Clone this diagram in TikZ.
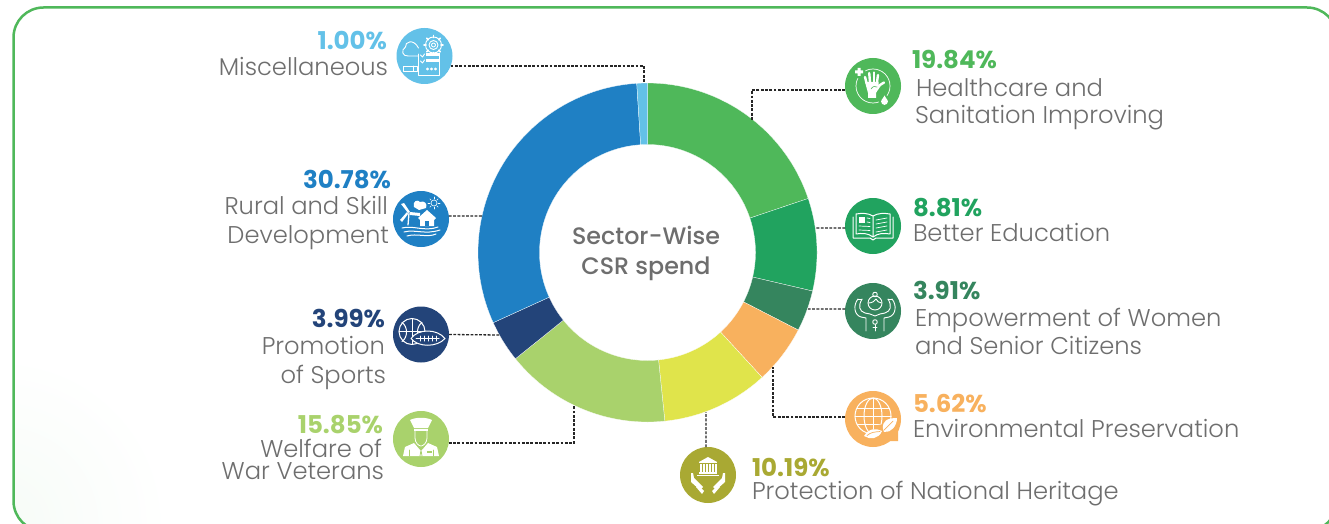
\documentclass[tikz,border=0pt]{standalone}
\usepackage{fontspec}
\setmainfont{Poppins}[UprightFont=* Light,BoldFont=* Bold]
\newfontfamily\medf{Poppins Medium}
\usetikzlibrary{calc}
\definecolor{cHealth}{HTML}{4FB85A}
\definecolor{cEdu}{HTML}{21A35F}
\definecolor{cWomen}{HTML}{35855E}
\definecolor{cEnv}{HTML}{F8B15E}
\definecolor{cHer}{HTML}{E0E44B}
\definecolor{cHerDark}{HTML}{A9A933}
\definecolor{cWar}{HTML}{A9D26C}
\definecolor{cSport}{HTML}{234479}
\definecolor{cRural}{HTML}{1F80C4}
\definecolor{cMisc}{HTML}{63C1E8}
\definecolor{cText}{HTML}{6E6E6E}
\tikzset{
 iconc/.style={circle,minimum size=56pt,inner sep=0pt,outer sep=0pt},
 conn/.style={black!85,line width=1.3pt,dash pattern=on 2.8pt off 1.5pt},
 pct/.style={inner sep=0pt,outer sep=0pt,yshift=-1pt,font=\fontsize{24.5}{24}\selectfont\bfseries},
 lbl/.style={inner sep=0pt,outer sep=0pt,yshift=-1pt,text=cText,font=\fontsize{24.2}{24}\selectfont},
 ic/.style={white,line width=1pt,line join=round,line cap=round},
}
\newcommand{\slice}[3]{%
 \fill[#3,draw=white,line width=.25pt] plot[domain=#1:#2,samples=80] ({647.5+169.5*cos(\x-90)},{252.5+169.5*sin(\x-90)})
   -- plot[domain=#2:#1,samples=80] ({647.5+108*cos(\x-90)},{252.5+108*sin(\x-90)}) -- cycle;}
\begin{document}
\begin{tikzpicture}[x=1pt,y=-1pt]
\useasboundingbox (0,0) rectangle (1329,524);
\clip (0,0) rectangle (1329,524);
\fill[white] (0,0) rectangle (1329,524);
% faint corner tint and frame
\begin{scope}
\clip[rounded corners=30pt] (13.5,7.5) rectangle (1337,531);
\shade[inner color=cHealth!5,outer color=white] (-170,354) rectangle (170,694);
\end{scope}
\draw[cHealth,line width=2.5pt,rounded corners=30pt] (13.5,7.5) rectangle (1337,531);
% ring
\slice{0}{71.42}{cHealth}
\slice{71.42}{103.14}{cEdu}
\slice{103.14}{117.22}{cWomen}
\slice{117.22}{137.45}{cEnv}
\slice{137.45}{174.13}{cHer}
\slice{174.13}{231.19}{cWar}
\slice{231.19}{245.55}{cSport}
\slice{245.55}{356.36}{cRural}
\slice{356.36}{360}{cMisc}
\node[inner sep=0pt,text=cText,align=center,font=\fontsize{23.8}{30}\medf] (centre) at (646,253) {Sector-Wise\\CSR spend};
% icon discs
\node[iconc,fill=cMisc] (misc) at (424.5,56) {};
\node[iconc,fill=cRural] (rural) at (421,219) {};
\node[iconc,fill=cSport] (sport) at (421,334.5) {};
\node[iconc,fill=cWar] (war) at (421,439) {};
\node[iconc,fill=cHealth] (health) at (873,86) {};
\node[iconc,fill=cEdu] (edu) at (873,226) {};
\node[iconc,fill=cWomen] (women) at (873,311) {};
\node[iconc,fill=cEnv] (env) at (873,419) {};
\node[iconc,fill=cHerDark] (her) at (708,475) {};
% connector ends on the ring
\coordinate (eMisc) at (644,83);
\coordinate (eRural) at (482,216);
\coordinate (eSport) at (500,335);
\coordinate (eWar) at (574,405);
\coordinate (eHealth) at (752,120);
\coordinate (eEdu) at (816,228);
\coordinate (eWomen) at (808,309);
\coordinate (eEnv) at (773,367);
\coordinate (eHer) at (706,412);
\draw[conn] (misc.-21) -| (eMisc);
\draw[conn] (rural.6) -- (eRural);
\draw[conn] (sport.0) -- (eSport);
\draw[conn] (war.-8) -| (eWar);
\draw[conn] (health.188) -| (eHealth);
\draw[conn] (edu.184) -- (eEdu);
\draw[conn] (women.176) -- (eWomen);
\draw[conn] (env.176) -| (eEnv);
\draw[conn] (her.94) -- (eHer);
% labels
\node[pct,text=cMisc,anchor=base east] (t1) at (387,49) {1.00\%};
\node[lbl,anchor=base east] (t1b) at (388,75) {Miscellaneous};
\node[pct,text=cRural,anchor=base east] (t2) at (391,187) {30.78\%};
\node[lbl,anchor=base east] (t2b) at (388,213) {Rural and Skill};
\node[lbl,anchor=base east] (t2c) at (389,242) {Development};
\node[pct,text=cSport,anchor=base east] (t3) at (385,326) {3.99\%};
\node[lbl,anchor=base east] (t3b) at (385,353) {Promotion};
\node[lbl,anchor=base east] (t3c) at (386,382) {of Sports};
\node[pct,text=cWar,anchor=base east] (t4) at (383,432) {15.85\%};
\node[lbl,anchor=base east] (t4b) at (382,456) {Welfare of};
\node[lbl,anchor=base east] (t4c) at (384,478) {War Veterans};
\node[pct,text=cHealth,anchor=base west] (t5) at (912,68) {19.84\%};
\node[lbl,anchor=base west] (t5b) at (916,95) {Healthcare and};
\node[lbl,anchor=base west] (t5c) at (915,123) {Sanitation Improving};
\node[pct,text=cEdu,anchor=base west] (t6) at (913,215) {8.81\%};
\node[lbl,anchor=base west] (t6b) at (913,240) {Better Education};
\node[pct,text=cWomen,anchor=base west] (t7) at (913,298) {3.91\%};
\node[lbl,anchor=base west] (t7b) at (915,325) {Empowerment of Women};
\node[lbl,anchor=base west] (t7c) at (915,353) {and Senior Citizens};
\node[pct,text=cEnv,anchor=base west] (t8) at (913,411) {5.62\%};
\node[lbl,anchor=base west] (t8b) at (913,436) {Environmental Preservation};
\node[pct,text=cHerDark,anchor=base west] (t9) at (752,475) {10.19\%};
\node[lbl,anchor=base west] (t9b) at (752,498) {Protection of National Heritage};
% ---- icons, local pixel coordinates round each disc
\begin{scope}[shift={(misc.center)},ic,line width=.9pt]
 \draw (-6,-2) -- (-6,19) -- (15,19) -- (15,-3);
 \draw (-6,-8) .. controls (-11,-18) and (-20,-14) .. (-19,-9) .. controls (-24,-6) and (-22,1) .. (-16,0) -- (-6,0);
 \draw[fill=cMisc] (9,-11) circle (8); \draw (9,-11) circle (4.5); \draw (9,-11) circle (2);
 \foreach \a in {0,45,...,315}{\draw[line width=1.6pt] (9,-11) ++(\a:7.5) -- ++(\a:2);}
 \fill (1,-3) rectangle (14,0); \fill (1,3) rectangle (14,6);
 \draw (-4,-1) -- (-2,1) -- (0,-2); \draw (-4,5) -- (-2,7) -- (0,4);
 \draw[fill=cMisc] (-21,10) rectangle (-7,15); \draw (-11,10) -- (-11,15);
 \foreach \x in {3,7,11}{\draw (\x,13) circle (1.1);}
\end{scope}
\begin{scope}[shift={(rural.center)},ic]
 \draw[line width=1.3pt] (-12,-6) -- (-13,6);
 \fill (-13,-6) -- (-20,-15) -- (-17,-16) -- (-11,-7) -- cycle;
 \fill (-11,-7) -- (-1,-6) -- (-1,-3) -- (-11,-4) -- cycle;
 \fill (-13,-5) -- (-19,3) -- (-21,1) -- (-14,-7) -- cycle;
 \fill (-7,-12) .. controls (-9,-18) and (-3,-20) .. (-1,-17) .. controls (3,-19) and (7,-15) .. (5,-11) -- (-2,-9) -- cycle;
 \draw[line width=.6pt] (13,-16) circle (3);
 \foreach \a in {0,45,...,315}{\draw[line width=.6pt] (13,-16) ++(\a:4) -- ++(\a:2);}
 \fill (-3,-1) -- (6,-9) -- (15,-1) -- (13,1) -- (13,7) -- (-1,7) -- (-1,1) -- cycle;
 \fill[cRural] (4,2) rectangle (8,7);
 \draw (-19,9) .. controls (-8,6) and (4,13) .. (17,8);
 \draw (-17,13) .. controls (-6,10) and (4,16) .. (19,11);
 \draw (-14,17) .. controls (-4,14) and (6,19) .. (15,15);
\end{scope}
\begin{scope}[shift={(sport.center)},ic]
 \draw (-9,-3) circle (13);
 \draw (-9,-16) -- (-9,10) (-22,-3) -- (4,-3);
 \draw (-19,-12) .. controls (-13,-8) and (-13,3) .. (-19,7);
 \draw (1,-12) .. controls (-5,-8) and (-5,3) .. (1,7);
 \draw[fill=cSport] (-10,4) .. controls (-3,-6) and (16,-6) .. (24,4) .. controls (16,13) and (-3,13) .. (-10,4) -- cycle;
 \draw (-5,4) -- (18,4);
 \foreach \x in {-1,3,7,11,15}{\draw (\x,1.5) -- (\x,6.5);}
\end{scope}
\begin{scope}[shift={(war.center)},ic]
 \fill (-11,-19) .. controls (-5,-22) and (5,-22) .. (11,-19) -- (7,-11) -- (-7,-11) -- cycle;
 \fill (-7,-10) rectangle (7,-8.5);
 \draw[line width=.8pt] (-6,-8) -- (-6,-1) .. controls (-6,4) and (-2,7) .. (0,7) .. controls (2,7) and (6,4) .. (6,-1) -- (6,-8);
 \fill (-7,4) -- (-16,8) -- (-18,17) -- (18,17) -- (16,8) -- (7,4) -- (1,11) -- (-1,11) -- cycle;
 \draw[cWar,line width=.8pt] (0,11) -- (-1,17) (0,11) -- (1,17);
 \draw[cWar,line width=.7pt] (-12,11) -- (-12,17) (12,11) -- (12,17);
 \fill[cWar] (6,12) rectangle (11,13.5);
\end{scope}
\begin{scope}[shift={(health.center)},ic]
 \draw[line width=.7pt] (0,0) circle (17);
 \fill[cHealth] (-14,-14) circle (6.5) (11.5,15) circle (6);
 \fill (-18,-15.5) rectangle (-10,-12.5) (-15.5,-18) rectangle (-12.5,-10);
 \begin{scope}[line width=2.4pt]
 \draw (-6.5,-3) -- (-8,-9); \draw (-3,-4) -- (-3.8,-13); \draw (0.8,-4) -- (0.8,-13.5); \draw (4,-4) -- (5,-11);
 \draw (4,3) -- (7,-1) -- (11,-3.5);
 \end{scope}
 \fill (-8,-4) -- (5.5,-4) -- (6,2) -- (3,7) -- (3,12) -- (-5,12) -- (-5,7) -- cycle;
 \draw[cHealth,line width=.6pt] (-2,3) .. controls (0,0) and (2,0) .. (4,1);
 \fill (11.5,15.5) circle (3.4);
 \fill (11.5,9.5) -- (14.5,14.5) -- (8.5,14.5) -- cycle;
\end{scope}
\begin{scope}[shift={(edu.center)},ic]
 \draw (0,-10) .. controls (-5,-13) and (-11,-13) .. (-17,-12) -- (-17,8) .. controls (-11,7) and (-5,7) .. (0,11) .. controls (5,7) and (11,7) .. (17,8) -- (17,-12) .. controls (11,-13) and (5,-13) .. (0,-10) -- (0,11);
 \draw (-20,-9) -- (-20,12) -- (-3,12) -- (0,14) -- (3,12) -- (20,12) -- (20,-9);
 \fill (-14,-9) rectangle (-8,-3);
 \draw[line width=.7pt] (-6,-8) -- (-3,-7.5) (-6,-4) -- (-3,-3.5) (-14,0) -- (-3,0.5) (-14,4) -- (-3,4.5);
 \draw[line width=.7pt] (3,-6) -- (14,-8) (3,-2) -- (14,-4) (3,2) -- (14,0) (3,6) -- (14,4);
\end{scope}
\begin{scope}[shift={(women.center)},ic,line width=.9pt]
 \draw (2,-8) circle (7);
 \draw (-4.5,-8) .. controls (-1,-8) and (2,-10) .. (3,-12) .. controls (4,-10) and (6,-8) .. (8.5,-8);
 \draw (2,-16.5) circle (2.3);
 \draw (-15,-12) .. controls (-20,-6) and (-19,4) .. (-12,6) -- (-7,7) -- (-7,20);
 \draw (-11,-12) .. controls (-15,-5) and (-14,0) .. (-8,2) -- (-3,3) -- (2,5) -- (7,3) -- (12,2) .. controls (18,0) and (19,-5) .. (15,-12);
 \draw (19,-12) .. controls (24,-6) and (23,4) .. (16,6) -- (11,7) -- (11,20);
 \draw (2,11) circle (2.3); \draw (2,13.5) -- (2,20) (0,16) -- (4,16);
 \draw (-15,-12) -- (-11,-12) (15,-12) -- (19,-12);
\end{scope}
\begin{scope}[shift={(env.center)},ic]
 \draw (0,-3) circle (18);
 \draw (0,-3) ellipse [x radius=9,y radius=18];
 \draw (0,-21) -- (0,15) (-18,-3) -- (18,-3);
 \draw (-16,-11) -- (16,-11) (-16,5) -- (16,5);
 \fill[cEnv] (-5,16) -- (5,6) -- (25,2) -- (25,22) -- (-3,22) -- cycle;
 \fill (-9,17) .. controls (-4,9) and (3,9) .. (9,12) .. controls (6,20) and (-3,21) .. (-9,17) -- cycle;
 \fill (10,10) .. controls (9,2) and (14,-1) .. (24,-1) .. controls (24,7) and (18,14) .. (11,13) -- cycle;
 \draw[cEnv,line width=.7pt] (-6,16.5) .. controls (-2,13) and (2,13) .. (7,12.5);
 \draw[cEnv,line width=.7pt] (11,11) -- (20,2);
\end{scope}
\begin{scope}[shift={(her.center)},ic]
 \fill (0,-18) -- (9,-13) -- (-9,-13) -- cycle;
 \fill (-9,-13) rectangle (9,-12);
 \foreach \x in {-8,-5,-2,1,4,7}{\fill (\x,-11) rectangle ++(1.7,8);}
 \fill (-9,-3) rectangle (9,-1.5);
 \fill (-11,-0.5) rectangle (11,.5);
 \fill (-17,-2) -- (-15,-2) -- (-14,3) -- (-5,12) -- (-8,15) -- (-17,7) -- cycle;
 \fill (17,-2) -- (15,-2) -- (14,3) -- (5,12) -- (8,15) -- (17,7) -- cycle;
 \fill (-12,12) -- (-10,10) -- (-4,16) -- (-6,19) -- cycle;
 \fill (12,12) -- (10,10) -- (4,16) -- (6,19) -- cycle;
\end{scope}
\end{tikzpicture}
\end{document}
